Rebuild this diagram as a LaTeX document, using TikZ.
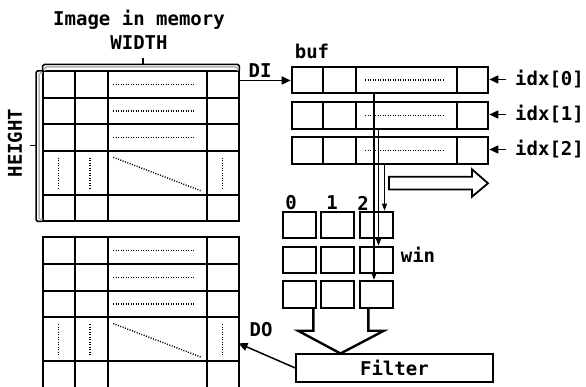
\documentclass[tikz,border=0pt]{standalone}
\usepackage{fontspec}
\setmonofont{DejaVu Sans Mono}
\usetikzlibrary{arrows.meta}
\begin{document}
\begin{tikzpicture}[x=1pt,y=-1pt,
  lbl/.style={font=\ttfamily\bfseries\fontsize{19}{21}\selectfont, inner sep=0pt},
  grid/.style={line width=2pt},
  dots/.style={line width=1.4pt, dash pattern=on 1pt off 1.5pt},
  cellbox/.style={draw, line width=2pt, minimum width=32.7pt, minimum height=26.6pt, inner sep=0pt},
  rowbox/.style={draw, line width=2pt, minimum width=196.6pt, minimum height=26.3pt, inner sep=0pt, anchor=north west},
  arr/.style={line width=1.5pt, -{Triangle[length=9pt,width=8pt]}},
  varr/.style={line width=1.3pt, -{Triangle[length=7pt,width=5pt]}},
  brace/.style={line width=1.5pt, rounded corners=1.5pt}
]
\useasboundingbox (0,0) rectangle (586,387);

% ---- image grids (upper and lower)
\foreach \dy in {0,166.3}{
\begin{scope}[shift={(0,\dy)}]
  \draw[grid] (42.7,71) rectangle (239.3,221.3);
  \foreach \x in {75,107.7,207.3} \draw[grid] (\x,71) -- (\x,221.3);
  \foreach \y in {97.7,124.3,151,195} \draw[grid] (42.7,\y) -- (239.3,\y);
  \foreach \y in {84.3,111,137.7} \draw[dots] (113,\y) -- (194,\y);
  \foreach \x in {58.5,90,222.7} \draw[dots] (\x,157.7) -- (\x,188.3);
  \draw[dots] (113.3,157.3) -- (200.7,190.7);
\end{scope}}

% ---- braces
\draw[brace, gray!60] (44.5,71) -- (44.5,67) -- (237.5,67) -- (237.5,71);
\draw[brace] (42.7,71) -- (42.7,64.5) -- (239.3,64.5) -- (239.3,71);
\draw[brace] (143,64.5) -- (143,58);
\draw[brace, gray!60] (42.7,73) -- (39,73) -- (39,219.5) -- (42.7,219.5);
\draw[brace] (42.7,71) -- (36,71) -- (36,221.3) -- (42.7,221.3);
\draw[brace] (36,145.7) -- (30,145.7);

\node[lbl] (title) at (139,20) {Image in memory};
\node[lbl] (width) at (139,43) {WIDTH};
\node[lbl, rotate=90] (height) at (15,143) {HEIGHT};

% ---- buf rows
\node[rowbox] (buf0) at (290.7,66) {};
\node[rowbox] (buf1) at (290.7,101.3) {};
\node[rowbox] (buf2) at (290.7,136.3) {};
\foreach \b in {buf0,buf1,buf2}{
  \draw[grid] ([xshift=32pt]\b.north west) -- ([xshift=32pt]\b.south west);
  \draw[grid] ([xshift=65pt]\b.north west) -- ([xshift=65pt]\b.south west);
  \draw[grid] ([xshift=-32pt]\b.north east) -- ([xshift=-32pt]\b.south east);
  \draw[dots] ([xshift=74.3pt]\b.west) -- ([xshift=153.3pt]\b.west);
}
\node[lbl] (buf) at (312,51.5) {buf};

% DI arrow
\coordinate (imgR) at (239.3,80.5);
\draw[arr] (imgR) -- (imgR -| buf0.west);
\node[lbl] (DI) at (260,71) {DI};

% idx labels
\node[lbl, anchor=west, inner xsep=9pt] (idx0) at (506,79.5) {idx[0]};
\node[lbl, anchor=west, inner xsep=9pt] (idx1) at (506,114.5) {idx[1]};
\node[lbl, anchor=west, inner xsep=9pt] (idx2) at (506,149.5) {idx[2]};
\foreach \i/\b in {idx0/buf0,idx1/buf1,idx2/buf2}
  \draw[arr] (\i.west) -- (\i.west -| \b.east);

% ---- window
\foreach \c/\x in {1/299.7,2/337.8,3/376.7}
  \foreach \r/\y in {1/225,2/260,3/294.2}
    \node[cellbox] (w\r\c) at (\x,\y) {};
\node[lbl] (c0) at (291,203) {0};
\node[lbl] (c1) at (332,203) {1};
\node[lbl] (c2) at (363,203) {2};
\node[lbl] (win) at (418,255) {win};

% buf -> win lines
\coordinate (la) at (374,0);
\coordinate (lb) at (378.5,0);
\coordinate (lc) at (384.5,0);
\draw[varr] (la |- buf0.south) -- (la |- w31.north);
\draw[varr] (lb |- buf1.south) -- (lb |- w21.north);
\draw[varr] (lc |- buf2.south) -- (lc |- w11.north);

% hollow shift arrow
\draw[line width=1.8pt, fill=white] (389,176.7) -- (472,176.7) -- (472,169.3) -- (488,183.3)
  -- (472,196.7) -- (472,189.5) -- (389,189.5) -- cycle;

% ---- filter
\node[draw, line width=2pt, minimum width=196.7pt, minimum height=27.7pt, inner sep=0pt,
  font=\ttfamily\bfseries\fontsize{19}{21}\selectfont] (filter) at (394.4,367.9) {Filter};
\draw[line width=2.4pt, line join=miter] (313.3,307.3) -- (313.3,330.7) -- (298,330.7) -- (340.5,353.5)
  -- (384,330.7) -- (368.3,330.7) -- (368.3,307.3);

% DO arrow
\coordinate (doTip) at (238.5,343.3);
\draw[arr] (filter.west) -- (doTip);
\node[lbl] (DO) at (261,330) {DO};
\end{tikzpicture}
\end{document}
